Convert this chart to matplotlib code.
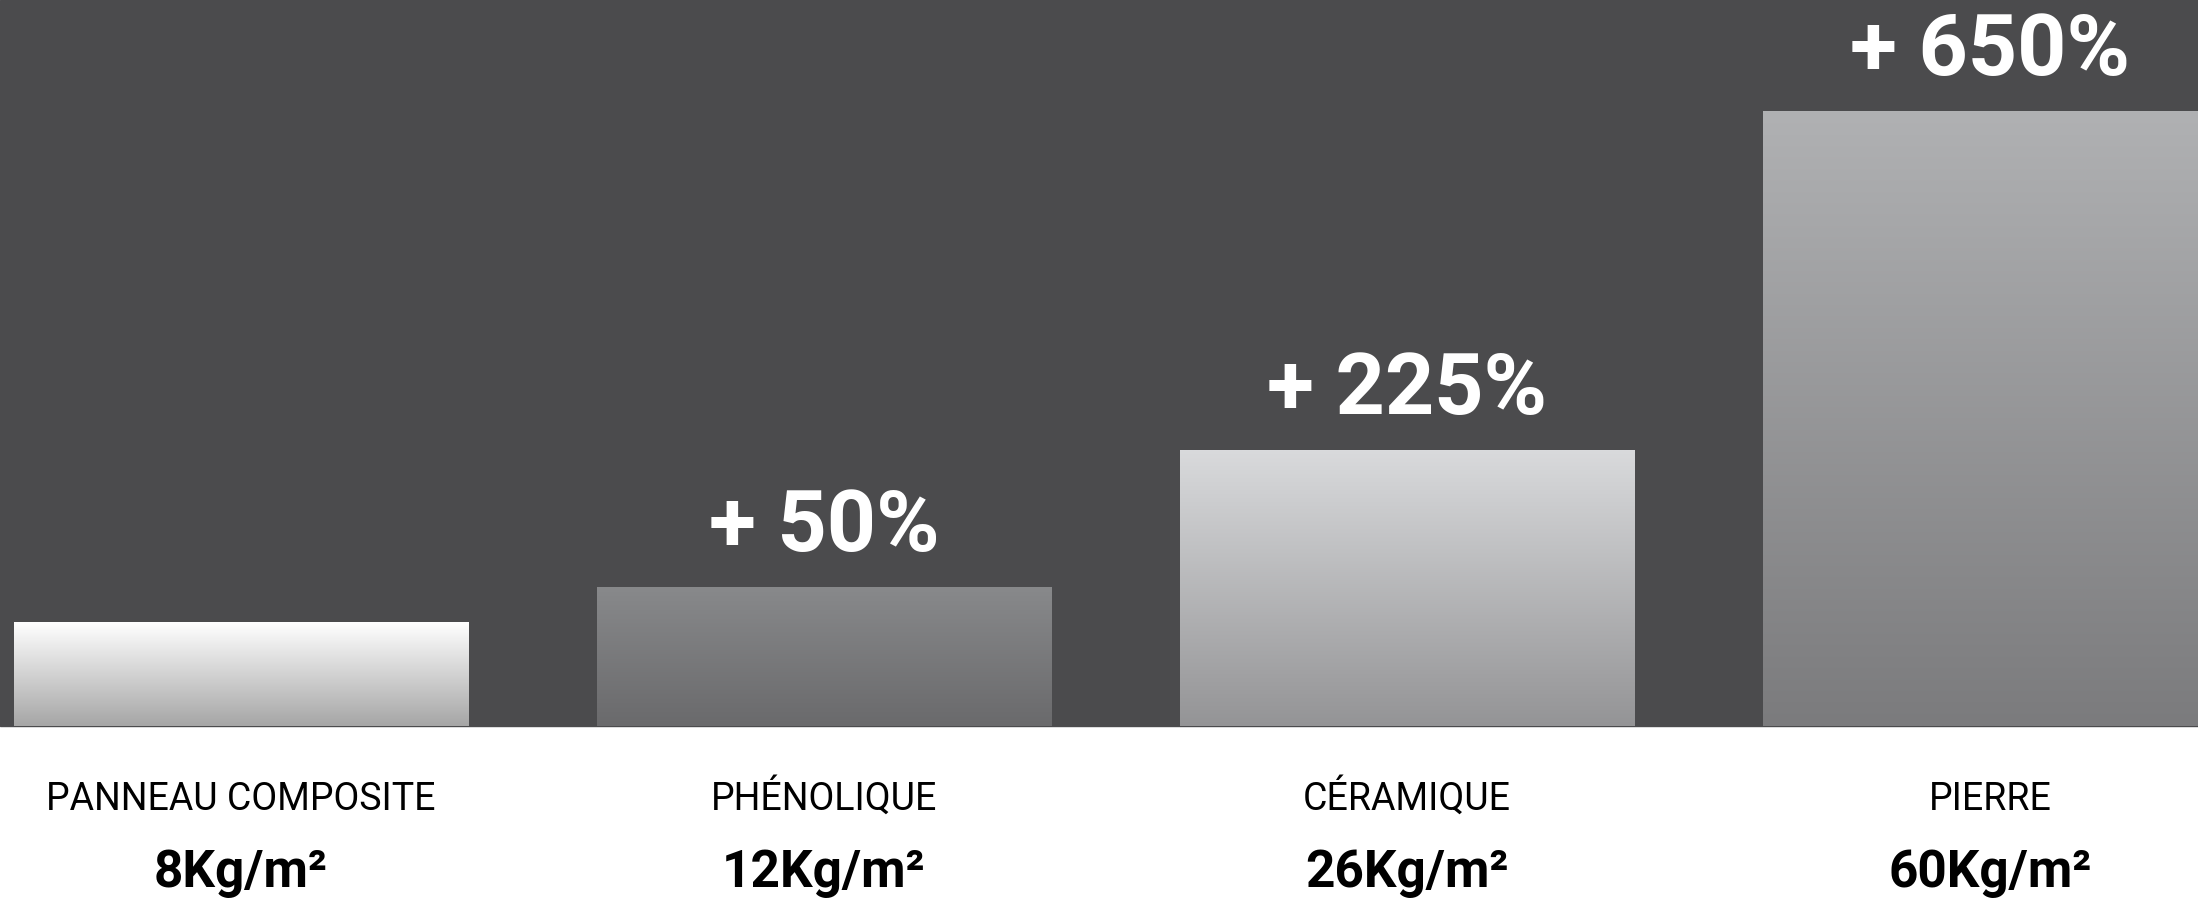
import numpy as np
import matplotlib
matplotlib.use('Agg')
import matplotlib.pyplot as plt
from matplotlib.colors import LinearSegmentedColormap

# data
categories = ['PANNEAU COMPOSITE', 'PHÉNOLIQUE', 'CÉRAMIQUE', 'PIERRE']
weights = ['8Kg/m²', '12Kg/m²', '26Kg/m²', '60Kg/m²']
increase = ['', '+ 50%', '+ 225%', '+ 650%']
bar_heights = [104, 139, 276, 615]   # drawn height of each bar (px above baseline)

top_colors = ['#ffffff', '#88898b', '#d9dadc', '#b0b1b3']
bottom_colors = ['#a6a6a6', '#6a6a6c', '#949496', '#7b7b7d']

plt.rcParams['font.family'] = ['Roboto', 'DejaVu Sans']

fig = plt.figure(figsize=(21.98, 9), dpi=100)
ax = fig.add_axes([0, 0, 1, 1])

x = np.arange(len(categories))
step = 583.0
ax.set_xlim(-241 / step, (2198 - 241) / step)
ax.set_ylim(-174, 726)
ax.axis('off')

ax.axhspan(0, 726, color='#4b4b4d', zorder=0)

bars = ax.bar(x, bar_heights, width=455 / step, color='none', zorder=1)

grad = np.linspace(1, 0, 256).reshape(-1, 1)
for i, b in enumerate(bars):
    cmap = LinearSegmentedColormap.from_list('g%d' % i, [bottom_colors[i], top_colors[i]])
    x0 = b.get_x()
    w = b.get_width()
    h = b.get_height()
    im = ax.imshow(grad, cmap=cmap, aspect='auto', extent=[x0, x0 + w, 0, h],
                   vmin=0, vmax=1, zorder=2)
    im.set_clip_path(b)

    if increase[i]:
        ax.text(x[i], h + 36, increase[i], ha='center', va='baseline',
                color='white', fontsize=62, fontweight='bold', zorder=3)
    ax.text(x[i], -84, categories[i], ha='center', va='baseline',
            color='black', fontsize=27, zorder=3)
    ax.text(x[i], -161, weights[i], ha='center', va='baseline',
            color='black', fontsize=37, fontweight='bold', zorder=3)

# keep the view limits fixed after imshow
ax.set_xlim(-241 / step, (2198 - 241) / step)
ax.set_ylim(-174, 726)

fig.savefig('out.png', dpi=100, facecolor='white')
